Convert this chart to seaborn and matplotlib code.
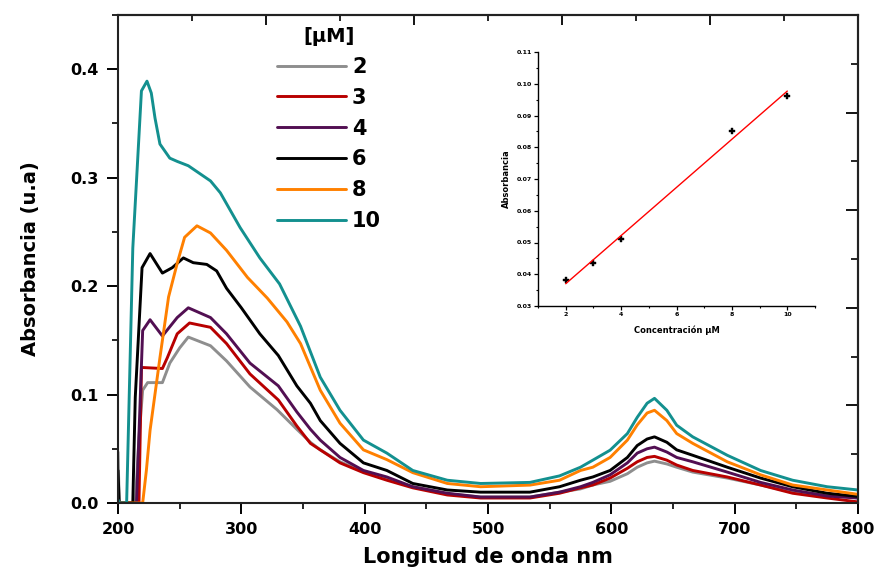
import numpy as np
import pandas as pd
import matplotlib
matplotlib.use("Agg")
import matplotlib.pyplot as plt
from matplotlib.ticker import MultipleLocator, FormatStrFormatter
import seaborn as sns

# ---------------- data ----------------
wl_2 = [200, 201, 214, 217, 220, 224, 236, 242, 250, 257, 275, 288, 307, 329, 345, 356, 364, 380, 399, 418, 439,
        467, 494, 534, 558, 575, 585, 599, 613, 621, 629, 635, 645, 653, 666, 694, 721, 747, 775, 800]
abs_2 = [0.047, 0.0, 0.0, 0.060, 0.104, 0.111, 0.111, 0.129, 0.143, 0.153, 0.145, 0.131, 0.107, 0.086, 0.068, 0.056,
         0.049, 0.038, 0.029, 0.022, 0.015, 0.0085, 0.0055, 0.0055, 0.010, 0.013, 0.0166, 0.020, 0.027, 0.033, 0.037,
         0.0386, 0.036, 0.033, 0.0285, 0.023, 0.0166, 0.010, 0.0074, 0.0046]

wl_3 = [201, 217, 219, 236, 240, 248, 258, 275, 288, 307, 330, 345, 356, 364, 380, 399, 418, 439, 467, 494, 534,
        558, 575, 585, 599, 613, 621, 629, 635, 645, 653, 666, 694, 721, 747, 775, 800]
abs_3 = [0.0, 0.0, 0.125, 0.124, 0.134, 0.156, 0.166, 0.162, 0.147, 0.119, 0.095, 0.071, 0.055, 0.049, 0.037, 0.028,
         0.021, 0.014, 0.0074, 0.0046, 0.0046, 0.009, 0.014, 0.0166, 0.023, 0.032, 0.038, 0.042, 0.043, 0.0395, 0.035,
         0.030, 0.024, 0.0166, 0.009, 0.0046, 0.001]

wl_4 = [201, 215, 220, 226, 236, 248, 257, 275, 288, 307, 330, 345, 356, 364, 380, 399, 418, 439, 467, 494, 534,
        558, 575, 585, 599, 613, 621, 629, 635, 645, 653, 666, 694, 721, 747, 775, 800]
abs_4 = [0.0, 0.0, 0.159, 0.169, 0.154, 0.171, 0.180, 0.171, 0.156, 0.129, 0.108, 0.084, 0.068, 0.058, 0.042, 0.030,
         0.024, 0.015, 0.009, 0.0055, 0.0055, 0.010, 0.015, 0.019, 0.026, 0.037, 0.046, 0.050, 0.0515, 0.047, 0.042,
         0.038, 0.0285, 0.019, 0.012, 0.0064, 0.0046]

wl_6 = [200, 201, 212, 214, 219.5, 226, 236, 244, 253, 261, 272, 280, 288, 300, 315, 330, 345, 356, 364, 380, 399,
        418, 439, 467, 494, 534, 558, 575, 585, 599, 613, 621, 629, 635, 645, 653, 666, 694, 721, 747, 775, 800]
abs_6 = [0.030, 0.0, 0.0, 0.0975, 0.217, 0.230, 0.212, 0.217, 0.226, 0.2216, 0.220, 0.214, 0.198, 0.180, 0.156, 0.136,
         0.108, 0.092, 0.076, 0.055, 0.037, 0.030, 0.018, 0.012, 0.010, 0.010, 0.015, 0.021, 0.024, 0.030, 0.042,
         0.053, 0.059, 0.061, 0.056, 0.049, 0.044, 0.033, 0.023, 0.015, 0.009, 0.006]

wl_8 = [201, 220, 223, 226, 234, 241, 248, 254, 264, 275, 288, 305, 321, 337, 348, 364, 380, 399, 418, 439, 467, 494,
        534, 558, 575, 585, 599, 613, 621, 629, 635, 645, 653, 666, 694, 721, 747, 775, 800]
abs_8 = [0.0, 0.0, 0.030, 0.067, 0.134, 0.190, 0.221, 0.245, 0.2556, 0.249, 0.233, 0.208, 0.189, 0.167, 0.147, 0.104,
         0.0736, 0.049, 0.040, 0.028, 0.018, 0.015, 0.0165, 0.021, 0.030, 0.033, 0.042, 0.058, 0.072, 0.083, 0.0855,
         0.076, 0.064, 0.055, 0.038, 0.026, 0.0166, 0.012, 0.008]

wl_10 = [200, 201, 207, 212, 215, 219, 223.5, 227, 230, 234, 242, 248, 257, 275, 283, 299, 315, 331, 348, 364, 380,
         399, 418, 439, 467, 494, 534, 558, 575, 585, 599, 613, 621, 629, 635, 645, 653, 666, 694, 721, 747, 775, 800]
abs_10 = [0.003, 0.0, 0.0, 0.235, 0.297, 0.380, 0.389, 0.378, 0.355, 0.331, 0.318, 0.315, 0.311, 0.297, 0.286, 0.254,
          0.226, 0.202, 0.163, 0.116, 0.0855, 0.058, 0.046, 0.030, 0.021, 0.018, 0.019, 0.025, 0.033, 0.0395, 0.0487,
          0.064, 0.079, 0.092, 0.0965, 0.0855, 0.0717, 0.061, 0.044, 0.030, 0.021, 0.015, 0.012]

series_labels = ["2", "3", "4", "6", "8", "10"]
series_colors = ["#8e8e8e", "#b80000", "#520f52", "#000000", "#ff8000", "#13908f"]

# inset calibration data
inset_conc = [2, 3, 4, 8, 10]
inset_abs = [0.0383, 0.0434, 0.0510, 0.0851, 0.0962]

x_ticks = [200, 300, 400, 500, 600, 700, 800]
y_ticks = [0.0, 0.1, 0.2, 0.3, 0.4]

# ---------------- figure ----------------
sns.set_style("ticks")
plt.rcParams["font.family"] = ["DejaVu Sans"]
plt.rcParams["font.weight"] = "bold"
for k in ("text.color", "axes.labelcolor", "xtick.color", "ytick.color"):
    plt.rcParams[k] = "black"

fig = plt.figure(figsize=(8.77, 5.72), dpi=100)
ax = fig.add_axes([118 / 877, 69 / 572, 740 / 877, 488 / 572])

wls = [wl_2, wl_3, wl_4, wl_6, wl_8, wl_10]
vals = [abs_2, abs_3, abs_4, abs_6, abs_8, abs_10]
for w, v, lab, col in zip(wls, vals, series_labels, series_colors):
    df = pd.DataFrame({"wl": w, "a": v})
    sns.lineplot(data=df, x="wl", y="a", ax=ax, color=col, lw=2.1, label=lab,
                 estimator=None, sort=False)

ax.set_xlim(200, 800)
ax.set_ylim(0, 0.45)
ax.set_xticks(x_ticks)
ax.set_yticks(y_ticks)
ax.xaxis.set_minor_locator(MultipleLocator(50))
ax.yaxis.set_minor_locator(MultipleLocator(0.05))
ax.yaxis.set_major_formatter(FormatStrFormatter("%.1f"))
for sp in ax.spines.values():
    sp.set_linewidth(1.5)
    sp.set_color("#222222")
ax.tick_params(axis="both", which="major", direction="out", length=8, width=1.4,
               labelsize=11.5, top=False, right=False, colors="black")
ax.tick_params(axis="x", which="major", pad=6)
ax.tick_params(axis="y", which="major", pad=6)
ax.tick_params(axis="both", which="minor", direction="out", length=4, width=1.2, top=False, right=False)
for t in ax.get_xticklabels() + ax.get_yticklabels():
    t.set_fontweight("bold")
ax.set_xlabel("Longitud de onda nm", fontsize=15, fontweight="bold", labelpad=7, color="black")
ax.set_ylabel("Absorbancia (u.a)", fontsize=14, fontweight="bold", labelpad=22, color="black")

# top and right mirrored axes (independent scales as in the original)
secx = ax.secondary_xaxis("top", functions=(lambda x: (x - 200) / 60.0, lambda t: t * 60.0 + 200))
secx.set_xticks([0, 2, 4, 6, 8, 10])
secx.xaxis.set_minor_locator(MultipleLocator(1))
secx.tick_params(which="major", direction="in", length=7, width=1.3, labeltop=False)
secx.tick_params(which="minor", direction="in", length=4, width=1.2)
secx.spines["top"].set_linewidth(1.5)

secy = ax.secondary_yaxis("right", functions=(lambda y: y * 0.5 / 0.45, lambda r: r * 0.45 / 0.5))
secy.set_yticks([0.0, 0.1, 0.2, 0.3, 0.4, 0.5])
secy.yaxis.set_minor_locator(MultipleLocator(0.05))
secy.tick_params(which="major", direction="in", length=9, width=1.3, labelright=False)
secy.tick_params(which="minor", direction="in", length=5, width=1.2)
secy.spines["right"].set_linewidth(1.5)

leg = ax.legend(title="[µM]", frameon=False, loc="upper left",
                bbox_to_anchor=(277 / 877, 1 - 27 / 572), bbox_transform=fig.transFigure,
                fontsize=15, title_fontsize=14, handlelength=3.3, handletextpad=0.3,
                labelspacing=0.52, borderpad=0, borderaxespad=0)
for t in leg.get_texts():
    t.set_fontweight("bold")
    t.set_color("black")
leg.get_title().set_fontweight("bold")
leg.get_title().set_color("black")
for h in leg.get_lines():
    h.set_linewidth(2.1)

# ---------------- inset ----------------
ins = fig.add_axes([538 / 877, (572 - 306) / 572, 277 / 877, 254 / 572])
sns.regplot(x=inset_conc, y=inset_abs, ax=ins, ci=None, scatter=False,
            line_kws=dict(color="red", lw=1.0))
sns.scatterplot(x=inset_conc, y=inset_abs, ax=ins, marker="P", s=18, color="black",
                edgecolor="black", linewidth=0.3)
ins.set_xlim(1, 11)
ins.set_ylim(0.03, 0.11)
ins.set_xticks([2, 4, 6, 8, 10])
ins.set_yticks([0.03, 0.04, 0.05, 0.06, 0.07, 0.08, 0.09, 0.10, 0.11])
ins.xaxis.set_minor_locator(MultipleLocator(1))
ins.yaxis.set_minor_locator(MultipleLocator(0.005))
ins.yaxis.set_major_formatter(FormatStrFormatter("%.2f"))
ins.spines["top"].set_visible(False)
ins.spines["right"].set_visible(False)
for s in ("left", "bottom"):
    ins.spines[s].set_linewidth(1.0)
    ins.spines[s].set_color("black")
ins.tick_params(which="major", direction="out", length=3, width=0.9, labelsize=4.5, pad=1.5, colors="black")
ins.tick_params(which="minor", direction="out", length=1.5, width=0.8, colors="black")
for t in ins.get_xticklabels() + ins.get_yticklabels():
    t.set_fontweight("bold")
ins.set_xlabel("Concentración µM", fontsize=6, fontweight="bold", labelpad=6, color="black")
ins.set_ylabel("Absorbancia", fontsize=6, fontweight="bold", labelpad=4, color="black")
ins.patch.set_alpha(0)

fig.savefig("out.png", dpi=100)
